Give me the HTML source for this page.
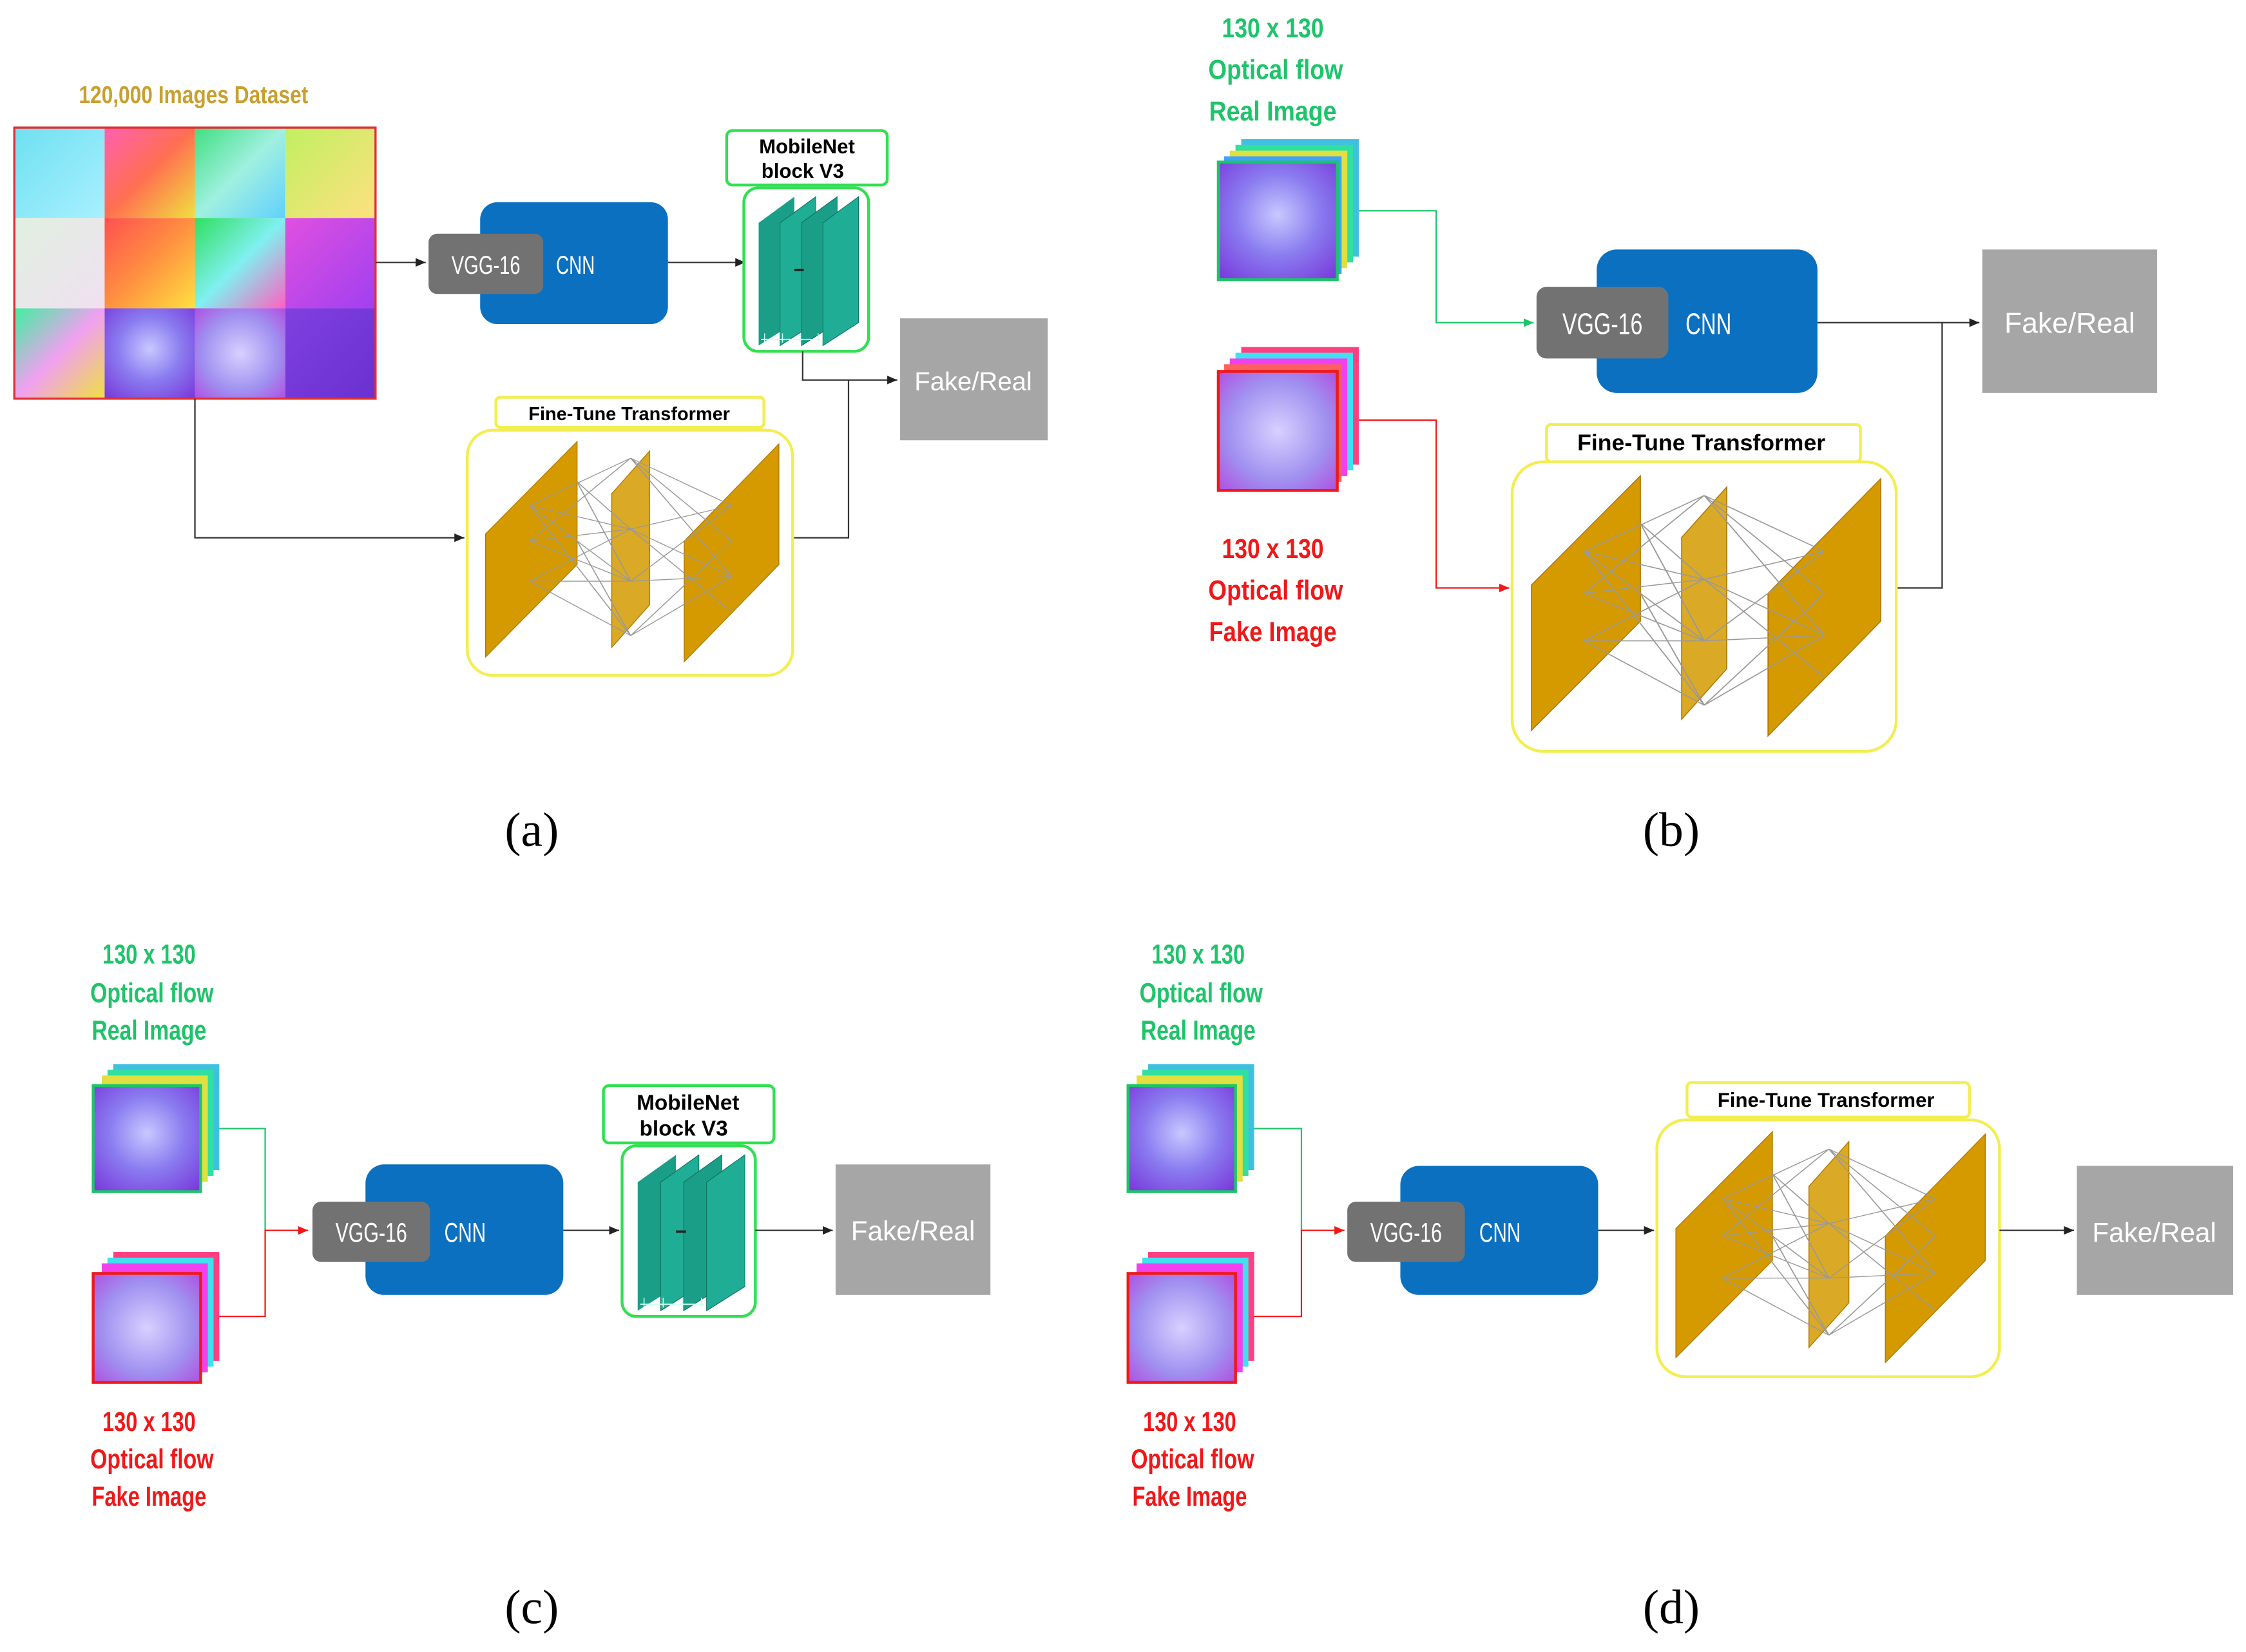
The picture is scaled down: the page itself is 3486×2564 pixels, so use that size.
<!DOCTYPE html>
<html><head><meta charset="utf-8"><style>
html,body{margin:0;padding:0;background:#fff}
svg{display:block}
text{font-family:"Liberation Sans",sans-serif}
.lbl{font-size:19px;font-weight:bold}
.g{fill:#1ec46a}.r{fill:#f01818}
.cap{font-family:"Liberation Serif",serif;font-size:34px;fill:#000}
.ln{stroke:#333;stroke-width:1;fill:none}
</style></head><body>
<svg width="3486" height="2564" viewBox="0 0 1567 1152" preserveAspectRatio="none" xmlns="http://www.w3.org/2000/svg">
<defs>
<marker id="ab" markerWidth="8" markerHeight="8" refX="7" refY="4" orient="auto" markerUnits="userSpaceOnUse"><path d="M0,1 L7,4 L0,7z" fill="#222"/></marker>
<marker id="ag" markerWidth="8" markerHeight="8" refX="7" refY="4" orient="auto" markerUnits="userSpaceOnUse"><path d="M0,1 L7,4 L0,7z" fill="#1ec46a"/></marker>
<marker id="ar" markerWidth="8" markerHeight="8" refX="7" refY="4" orient="auto" markerUnits="userSpaceOnUse"><path d="M0,1 L7,4 L0,7z" fill="#f01818"/></marker>
<radialGradient id="face" cx="0.5" cy="0.45" r="0.7"><stop offset="0" stop-color="#c8c8ff"/><stop offset="0.5" stop-color="#8a7cf0"/><stop offset="1" stop-color="#7a3cdc"/></radialGradient>
<radialGradient id="face2" cx="0.5" cy="0.5" r="0.7"><stop offset="0" stop-color="#d8d0ff"/><stop offset="0.6" stop-color="#a090f0"/><stop offset="1" stop-color="#b050e0"/></radialGradient>
<linearGradient id="c1" x1="0" y1="0" x2="1" y2="1"><stop offset="0" stop-color="#6fe0f0"/><stop offset="1" stop-color="#a8f0ff"/></linearGradient>
<linearGradient id="c2" x1="0" y1="0" x2="1" y2="1"><stop offset="0" stop-color="#ff60b0"/><stop offset="0.5" stop-color="#ff7050"/><stop offset="1" stop-color="#f0e040"/></linearGradient>
<linearGradient id="c3" x1="0" y1="0" x2="1" y2="1"><stop offset="0" stop-color="#40e080"/><stop offset="0.5" stop-color="#a0f0e0"/><stop offset="1" stop-color="#60d0ff"/></linearGradient>
<linearGradient id="c4" x1="0" y1="0" x2="1" y2="1"><stop offset="0" stop-color="#c0f060"/><stop offset="1" stop-color="#ffe080"/></linearGradient>
<linearGradient id="c5" x1="0" y1="0" x2="1" y2="1"><stop offset="0" stop-color="#e0f0e0"/><stop offset="1" stop-color="#f0e0f0"/></linearGradient>
<linearGradient id="c6" x1="0" y1="0" x2="1" y2="1"><stop offset="0" stop-color="#ff5050"/><stop offset="0.5" stop-color="#ff9040"/><stop offset="1" stop-color="#ffe040"/></linearGradient>
<linearGradient id="c7" x1="0" y1="0" x2="1" y2="1"><stop offset="0" stop-color="#30e060"/><stop offset="0.5" stop-color="#80f0f0"/><stop offset="1" stop-color="#ff60c0"/></linearGradient>
<linearGradient id="c8" x1="0" y1="0" x2="1" y2="1"><stop offset="0" stop-color="#e050e0"/><stop offset="1" stop-color="#a040f0"/></linearGradient>
<linearGradient id="c9" x1="0" y1="0" x2="1" y2="1"><stop offset="0" stop-color="#40f0a0"/><stop offset="0.5" stop-color="#f0a0f0"/><stop offset="1" stop-color="#f0e040"/></linearGradient>
<linearGradient id="c12" x1="0" y1="0" x2="1" y2="1"><stop offset="0" stop-color="#8040e0"/><stop offset="1" stop-color="#6a30d0"/></linearGradient>
<g id="tr">
 <polygon points="4,42 33,3 33,55 4,94" fill="#d49a00" stroke="#b07a00" stroke-width="0.3"/>
 <polygon points="44,25 56,7 56,72 44,90" fill="#d49a00" fill-opacity="0.85" stroke="#b07a00" stroke-width="0.3"/>
 <polygon points="67,45 97,4 97,55 67,96" fill="#d49a00" stroke="#b07a00" stroke-width="0.3"/>
 <g stroke="#999" stroke-width="0.35" fill="none">
  <path d="M18,30 L50,10 M18,30 L50,40 M18,30 L50,62 M18,45 L50,10 M18,45 L50,40 M18,45 L50,62 M18,62 L50,40 M18,62 L50,62 M18,62 L50,85 M33,20 L50,40 M33,45 L50,85"/>
  <path d="M50,10 L82,30 M50,10 L82,60 M50,40 L82,30 M50,40 L82,60 M50,62 L82,30 M50,62 L82,60 M50,85 L82,60 M50,85 L82,45 M50,10 L82,45"/>
  <path d="M18,30 L50,85 M33,20 L50,62 M50,40 L82,75"/>
 </g>
</g>
<g id="mb">
 <polygon points="10,20 40,3 40,85 10,100" fill="#1a9e88"/>
 <polygon points="28,20 58,3 58,85 28,100" fill="#20ad95" stroke="#0d7060" stroke-width="0.5"/>
 <polygon points="46,20 76,3 76,85 46,100" fill="#1a9e88" stroke="#0d7060" stroke-width="0.5"/>
 <polygon points="64,20 94,3 94,85 64,100" fill="#20ad95" stroke="#0d7060" stroke-width="0.5"/>
 <rect x="40" y="50" width="8" height="1.5" fill="#222"/>
 <path d="M12,96 L62,96 M15,92 L15,98 M30,92 L30,98 M45,92 L45,98 M60,92 L60,98" stroke="#cfe" stroke-width="0.8" fill="none"/>
</g>
</defs>
<rect width="1567" height="1152" fill="#fff"/>

<!-- ===== (a) ===== -->
<text x="55" y="72" font-size="17" font-weight="bold" fill="#c8a030" textLength="160" lengthAdjust="spacingAndGlyphs">120,000 Images Dataset</text>
<g>
<rect x="10" y="89" width="63" height="63" fill="url(#c1)"/>
<rect x="73" y="89" width="63" height="63" fill="url(#c2)"/>
<rect x="136" y="89" width="63" height="63" fill="url(#c3)"/>
<rect x="199" y="89" width="63" height="63" fill="url(#c4)"/>
<rect x="10" y="152" width="63" height="63" fill="url(#c5)"/>
<rect x="73" y="152" width="63" height="63" fill="url(#c6)"/>
<rect x="136" y="152" width="63" height="63" fill="url(#c7)"/>
<rect x="199" y="152" width="63" height="63" fill="url(#c8)"/>
<rect x="10" y="215" width="63" height="63" fill="url(#c9)"/>
<rect x="73" y="215" width="63" height="63" fill="url(#face)"/>
<rect x="136" y="215" width="63" height="63" fill="url(#face2)"/>
<rect x="199" y="215" width="63" height="63" fill="url(#c12)"/>
<rect x="10" y="89" width="252" height="189" fill="none" stroke="#e03030" stroke-width="1.5"/>
</g>
<path class="ln" d="M262,183 L297,183" marker-end="url(#ab)"/>
<rect x="335" y="141" width="131" height="85" rx="12" fill="#0a70bf"/>
<rect x="299" y="163" width="80" height="42" rx="6" fill="#727272"/>
<text x="339" y="191" font-size="18" fill="#fff" text-anchor="middle" textLength="48" lengthAdjust="spacingAndGlyphs">VGG-16</text>
<text x="388" y="191" font-size="18" fill="#fff" textLength="27" lengthAdjust="spacingAndGlyphs">CNN</text>
<path class="ln" d="M466,183 L520,183" marker-end="url(#ab)"/>
<rect x="507" y="91" width="112" height="38" rx="4" fill="#fff" stroke="#30e050" stroke-width="2"/>
<text x="563" y="107" font-size="14" font-weight="bold" text-anchor="middle">MobileNet</text>
<text x="560" y="124" font-size="14" font-weight="bold" text-anchor="middle">block V3</text>
<rect x="519" y="131" width="87" height="114" rx="10" fill="#fff" stroke="#30e050" stroke-width="2"/>
<use href="#mb" transform="translate(521,134) scale(0.83,1.07)"/>
<path class="ln" d="M560,245 L560,265 L626,265" marker-end="url(#ab)"/>
<rect x="628" y="222" width="103" height="85" fill="#a6a6a6"/>
<text x="679" y="272" font-size="18" fill="#fff" text-anchor="middle">Fake/Real</text>
<path class="ln" d="M136,278 L136,375 L324,375" marker-end="url(#ab)"/>
<path class="ln" d="M553,375 L592,375 L592,265"/>
<rect x="346" y="277" width="187" height="21" rx="3" fill="#fff" stroke="#f3ee50" stroke-width="2"/>
<text x="439" y="293" font-size="13" font-weight="bold" text-anchor="middle">Fine-Tune Transformer</text>
<rect x="326" y="300" width="227" height="171" rx="18" fill="#fff" stroke="#f3ee50" stroke-width="2"/>
<use href="#tr" transform="translate(330,303) scale(2.2,1.65)"/>
<text class="cap" x="371" y="590" text-anchor="middle">(a)</text>

<!-- ===== (b) ===== -->
<text class="lbl g" x="888" y="26" text-anchor="middle" textLength="71" lengthAdjust="spacingAndGlyphs">130 x 130</text>
<text class="lbl g" x="890" y="55" text-anchor="middle" textLength="94" lengthAdjust="spacingAndGlyphs">Optical flow</text>
<text class="lbl g" x="888" y="84" text-anchor="middle" textLength="89" lengthAdjust="spacingAndGlyphs">Real Image</text>
<g>
<rect x="866" y="97" width="82" height="82" fill="#40c0e0"/>
<rect x="862" y="101" width="82" height="82" fill="#30e0a0"/>
<rect x="858" y="105" width="82" height="82" fill="#e0e040"/>
<rect x="854" y="109" width="82" height="82" fill="#40a0ff"/>
<rect x="850" y="113" width="83" height="82" fill="url(#face)" stroke="#1ec46a" stroke-width="2"/>
</g>
<g>
<rect x="866" y="242" width="82" height="82" fill="#ff4080"/>
<rect x="862" y="246" width="82" height="82" fill="#40e0f0"/>
<rect x="858" y="250" width="82" height="82" fill="#f040f0"/>
<rect x="854" y="254" width="82" height="82" fill="#ff6060"/>
<rect x="850" y="259" width="83" height="83" fill="url(#face2)" stroke="#f01818" stroke-width="2"/>
</g>
<text class="lbl r" x="888" y="389" text-anchor="middle" textLength="71" lengthAdjust="spacingAndGlyphs">130 x 130</text>
<text class="lbl r" x="890" y="418" text-anchor="middle" textLength="94" lengthAdjust="spacingAndGlyphs">Optical flow</text>
<text class="lbl r" x="888" y="447" text-anchor="middle" textLength="89" lengthAdjust="spacingAndGlyphs">Fake Image</text>
<path d="M948,147 L1002,147 L1002,225 L1070,225" stroke="#1ec46a" fill="none" marker-end="url(#ag)"/>
<path d="M948,293 L1002,293 L1002,410 L1053,410" stroke="#f01818" fill="none" marker-end="url(#ar)"/>
<rect x="1114" y="174" width="154" height="100" rx="14" fill="#0a70bf"/>
<rect x="1072" y="200" width="92" height="50" rx="7" fill="#727272"/>
<text x="1118" y="233" font-size="21" fill="#fff" text-anchor="middle" textLength="56" lengthAdjust="spacingAndGlyphs">VGG-16</text>
<text x="1176" y="233" font-size="21" fill="#fff" textLength="32" lengthAdjust="spacingAndGlyphs">CNN</text>
<path class="ln" d="M1268,225 L1381,225" marker-end="url(#ab)"/>
<rect x="1383" y="174" width="122" height="100" fill="#a6a6a6"/>
<text x="1444" y="232" font-size="20" fill="#fff" text-anchor="middle">Fake/Real</text>
<path class="ln" d="M1323,410 L1355,410 L1355,225"/>
<rect x="1079" y="296" width="219" height="26" rx="3" fill="#fff" stroke="#f3ee50" stroke-width="2"/>
<text x="1187" y="314" font-size="16" font-weight="bold" text-anchor="middle">Fine-Tune Transformer</text>
<rect x="1055" y="322" width="268" height="202" rx="22" fill="#fff" stroke="#f3ee50" stroke-width="2"/>
<use href="#tr" transform="translate(1058,326) scale(2.62,1.95)"/>
<text class="cap" x="1166" y="590" text-anchor="middle">(b)</text>

<!-- ===== (c) ===== -->
<text class="lbl g" x="104" y="672" text-anchor="middle" textLength="65" lengthAdjust="spacingAndGlyphs">130 x 130</text>
<text class="lbl g" x="106" y="699" text-anchor="middle" textLength="86" lengthAdjust="spacingAndGlyphs">Optical flow</text>
<text class="lbl g" x="104" y="725" text-anchor="middle" textLength="80" lengthAdjust="spacingAndGlyphs">Real Image</text>
<g>
<rect x="79" y="742" width="74" height="74" fill="#40c0e0"/>
<rect x="75" y="746" width="74" height="74" fill="#30e0a0"/>
<rect x="71" y="750" width="74" height="74" fill="#e0e040"/>
<rect x="65" y="757" width="75" height="74" fill="url(#face)" stroke="#1ec46a" stroke-width="2"/>
</g>
<g>
<rect x="79" y="873" width="74" height="76" fill="#ff4080"/>
<rect x="75" y="877" width="74" height="76" fill="#40e0f0"/>
<rect x="71" y="881" width="74" height="76" fill="#f040f0"/>
<rect x="65" y="888" width="75" height="76" fill="url(#face2)" stroke="#f01818" stroke-width="2"/>
</g>
<text class="lbl r" x="104" y="998" text-anchor="middle" textLength="65" lengthAdjust="spacingAndGlyphs">130 x 130</text>
<text class="lbl r" x="106" y="1024" text-anchor="middle" textLength="86" lengthAdjust="spacingAndGlyphs">Optical flow</text>
<text class="lbl r" x="104" y="1050" text-anchor="middle" textLength="80" lengthAdjust="spacingAndGlyphs">Fake Image</text>
<path d="M153,787 L185,787 L185,858" stroke="#1ec46a" fill="none"/>
<path d="M153,918 L185,918 L185,858 L215,858" stroke="#f01818" fill="none" marker-end="url(#ar)"/>
<rect x="255" y="812" width="138" height="91" rx="13" fill="#0a70bf"/>
<rect x="218" y="838" width="82" height="42" rx="6" fill="#727272"/>
<text x="259" y="866" font-size="19" fill="#fff" text-anchor="middle" textLength="50" lengthAdjust="spacingAndGlyphs">VGG-16</text>
<text x="310" y="866" font-size="19" fill="#fff" textLength="29" lengthAdjust="spacingAndGlyphs">CNN</text>
<path class="ln" d="M393,858 L432,858" marker-end="url(#ab)"/>
<rect x="421" y="757" width="119" height="40" rx="4" fill="#fff" stroke="#30e050" stroke-width="2"/>
<text x="480" y="774" font-size="15" font-weight="bold" text-anchor="middle">MobileNet</text>
<text x="477" y="792" font-size="15" font-weight="bold" text-anchor="middle">block V3</text>
<rect x="434" y="799" width="93" height="119" rx="10" fill="#fff" stroke="#30e050" stroke-width="2"/>
<use href="#mb" transform="translate(436,802) scale(0.89,1.12)"/>
<path class="ln" d="M527,858 L581,858" marker-end="url(#ab)"/>
<rect x="583" y="812" width="108" height="91" fill="#a6a6a6"/>
<text x="637" y="865" font-size="19" fill="#fff" text-anchor="middle">Fake/Real</text>
<text class="cap" x="371" y="1132" text-anchor="middle">(c)</text>

<!-- ===== (d) ===== -->
<text class="lbl g" x="836" y="672" text-anchor="middle" textLength="65" lengthAdjust="spacingAndGlyphs">130 x 130</text>
<text class="lbl g" x="838" y="699" text-anchor="middle" textLength="86" lengthAdjust="spacingAndGlyphs">Optical flow</text>
<text class="lbl g" x="836" y="725" text-anchor="middle" textLength="80" lengthAdjust="spacingAndGlyphs">Real Image</text>
<g>
<rect x="801" y="742" width="74" height="74" fill="#40c0e0"/>
<rect x="797" y="746" width="74" height="74" fill="#30e0a0"/>
<rect x="793" y="750" width="74" height="74" fill="#e0e040"/>
<rect x="787" y="757" width="75" height="74" fill="url(#face)" stroke="#1ec46a" stroke-width="2"/>
</g>
<g>
<rect x="801" y="873" width="74" height="76" fill="#ff4080"/>
<rect x="797" y="877" width="74" height="76" fill="#40e0f0"/>
<rect x="793" y="881" width="74" height="76" fill="#f040f0"/>
<rect x="787" y="888" width="75" height="76" fill="url(#face2)" stroke="#f01818" stroke-width="2"/>
</g>
<text class="lbl r" x="830" y="998" text-anchor="middle" textLength="65" lengthAdjust="spacingAndGlyphs">130 x 130</text>
<text class="lbl r" x="832" y="1024" text-anchor="middle" textLength="86" lengthAdjust="spacingAndGlyphs">Optical flow</text>
<text class="lbl r" x="830" y="1050" text-anchor="middle" textLength="80" lengthAdjust="spacingAndGlyphs">Fake Image</text>
<path d="M875,787 L908,787 L908,858" stroke="#1ec46a" fill="none"/>
<path d="M875,918 L908,918 L908,858 L938,858" stroke="#f01818" fill="none" marker-end="url(#ar)"/>
<rect x="977" y="813" width="138" height="90" rx="13" fill="#0a70bf"/>
<rect x="940" y="838" width="82" height="42" rx="6" fill="#727272"/>
<text x="981" y="866" font-size="19" fill="#fff" text-anchor="middle" textLength="50" lengthAdjust="spacingAndGlyphs">VGG-16</text>
<text x="1032" y="866" font-size="19" fill="#fff" textLength="29" lengthAdjust="spacingAndGlyphs">CNN</text>
<path class="ln" d="M1115,858 L1154,858" marker-end="url(#ab)"/>
<rect x="1177" y="755" width="197" height="24" rx="3" fill="#fff" stroke="#f3ee50" stroke-width="2"/>
<text x="1274" y="772" font-size="14" font-weight="bold" text-anchor="middle">Fine-Tune Transformer</text>
<rect x="1156" y="781" width="239" height="179" rx="20" fill="#fff" stroke="#f3ee50" stroke-width="2"/>
<use href="#tr" transform="translate(1160,784) scale(2.32,1.73)"/>
<path class="ln" d="M1395,858 L1447,858" marker-end="url(#ab)"/>
<rect x="1449" y="813" width="109" height="90" fill="#a6a6a6"/>
<text x="1503" y="866" font-size="19" fill="#fff" text-anchor="middle">Fake/Real</text>
<text class="cap" x="1166" y="1132" text-anchor="middle">(d)</text>
</svg>
</body></html>
